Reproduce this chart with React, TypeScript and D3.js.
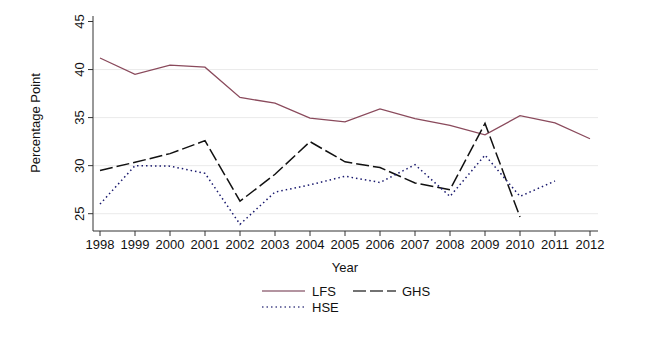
import React from "react";
import * as d3 from "d3";

const years = [1998, 1999, 2000, 2001, 2002, 2003, 2004, 2005, 2006, 2007, 2008, 2009, 2010, 2011, 2012];
const lfs = [41.2, 39.5, 40.45, 40.25, 37.1, 36.5, 34.95, 34.55, 35.9, 34.9, 34.2, 33.2, 35.2, 34.45, 32.8];
const ghs = [29.5, 30.35, 31.25, 32.6, 26.3, 29.1, 32.5, 30.4, 29.8, 28.2, 27.5, 34.4, 24.65, null, null];
const hse = [26.0, 30.0, 29.95, 29.2, 23.9, 27.25, 28.0, 28.9, 28.25, 30.1, 26.8, 31.1, 26.8, 28.4, null];
const yTicks = [25, 30, 35, 40, 45];
const gridTicks = [25, 30, 35, 40];

const W = 668, H = 337;

export default function App() {
  const x = d3.scaleLinear().domain([1998, 2012]).range([100, 590]);
  const y = d3.scaleLinear().domain([25, 45]).range([213.7, 21.5]);
  const font = "Liberation Sans, Arial, sans-serif";
  const line = d3.line<[number, number | null]>()
    .defined((d) => d[1] != null)
    .x((d) => x(d[0]))
    .y((d) => y(d[1] as number));
  const mk = (vals: (number | null)[]) => line(years.map((yr, i) => [yr, vals[i]] as [number, number | null])) || "";
  const axX0 = 93, axX1 = 598, axY0 = 231, axY1 = 16;
  return (
    <svg width={W} height={H} style={{ position: "absolute", left: 0, top: 0, background: "#fff" }}>
      <rect x={0} y={0} width={W} height={H} fill="#fff" />
      {gridTicks.map((t) => (
        <line key={"g" + t} x1={axX0} x2={axX1} y1={y(t)} y2={y(t)} stroke="#eaeaea" strokeWidth={1} />
      ))}
      <line x1={axX0} x2={axX0} y1={axY1} y2={axY0} stroke="#333" strokeWidth={1} />
      <line x1={axX0} x2={axX1} y1={axY0} y2={axY0} stroke="#333" strokeWidth={1} />
      {yTicks.map((t) => (
        <g key={"y" + t}>
          <line x1={axX0 - 5} x2={axX0} y1={y(t)} y2={y(t)} stroke="#333" />
          <text transform={`translate(${axX0 - 9},${y(t)}) rotate(-90)`} textAnchor="middle" fontFamily={font} fontSize={13} fill="#111">{t}</text>
        </g>
      ))}
      {years.map((yr) => (
        <g key={"x" + yr}>
          <line x1={x(yr)} x2={x(yr)} y1={axY0} y2={axY0 + 5} stroke="#333" />
          <text x={x(yr)} y={249} textAnchor="middle" fontFamily={font} fontSize={13} fill="#111">{yr}</text>
        </g>
      ))}
      <text x={345} y={272} textAnchor="middle" fontFamily={font} fontSize={13} fill="#111">Year</text>
      <text transform={`translate(40,123) rotate(-90)`} textAnchor="middle" fontFamily={font} fontSize={13} fill="#111">Percentage Point</text>
      <path d={mk(lfs)} fill="none" stroke="#8a4a5c" strokeWidth={1.3} />
      <path d={mk(ghs)} fill="none" stroke="#111" strokeWidth={1.5} strokeDasharray="13,4" />
      <path d={mk(hse)} fill="none" stroke="#1a1a6e" strokeWidth={1.5} strokeDasharray="1.5,3" />
      <line x1={262} x2={305} y1={291} y2={291} stroke="#9a7080" strokeWidth={1.5} />
      <text x={312} y={296} fontFamily={font} fontSize={13} fill="#111">LFS</text>
      <line x1={353} x2={396} y1={291} y2={291} stroke="#444" strokeWidth={1.5} strokeDasharray="13,4" />
      <text x={402} y={296} fontFamily={font} fontSize={13} fill="#111">GHS</text>
      <line x1={262} x2={305} y1={307} y2={307} stroke="#4a4a8a" strokeWidth={1.5} strokeDasharray="1.5,3" />
      <text x={312} y={312} fontFamily={font} fontSize={13} fill="#111">HSE</text>
    </svg>
  );
}
